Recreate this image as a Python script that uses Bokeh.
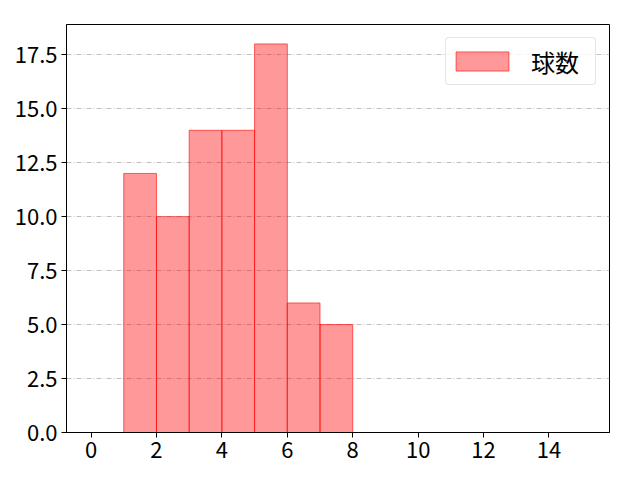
from bokeh.plotting import figure
from bokeh.embed import file_html
from bokeh.resources import INLINE
from bokeh.models import Range1d, FixedTicker, NumeralTickFormatter, ColumnDataSource

# histogram: pitch counts per bin
bin_left = [1, 2, 3, 4, 5, 6, 7]
bin_right = [2, 3, 4, 5, 6, 7, 8]
counts = [12, 10, 14, 14, 18, 6, 5]
x_ticks = [0, 2, 4, 6, 8, 10, 12, 14]
y_ticks = [0, 2.5, 5, 7.5, 10, 12.5, 15, 17.5]
series_name = "球数"

FONT = "Noto Sans CJK JP"

p = figure(
    width=632,
    height=472,
    output_backend="svg",
    toolbar_location=None,
    x_range=Range1d(-0.75, 15.85),
    y_range=Range1d(0, 18.9),
    min_border_left=66,
    min_border_right=23,
    min_border_top=24,
    min_border_bottom=40,
)
p.outline_line_color = "black"
p.outline_line_width = 1
p.xgrid.visible = False
p.ygrid.grid_line_color = "#b0b0b0"
p.ygrid.grid_line_dash = "5 2 1 2"
p.ygrid.grid_line_width = 0.8

src = ColumnDataSource(dict(left=bin_left, right=bin_right, top=counts, bottom=[0] * len(counts)))
p.quad(
    left="left", right="right", top="top", bottom="bottom", source=src,
    fill_color="#ff0000", fill_alpha=0.4,
    line_color="#ff0000", line_alpha=0.6, line_width=1,
    legend_label=series_name,
)

for ax in (p.xaxis, p.yaxis):
    ax.axis_line_color = "black"
    ax.major_tick_line_color = "black"
    ax.major_tick_out = 5
    ax.major_tick_in = 0
    ax.minor_tick_line_color = None
    ax.major_label_text_font = FONT
    ax.major_label_text_font_size = "22px"
    ax.major_label_text_color = "black"
    ax.major_label_standoff = 4

p.xaxis.ticker = FixedTicker(ticks=x_ticks)
p.yaxis.ticker = FixedTicker(ticks=y_ticks)
p.yaxis.formatter = NumeralTickFormatter(format="0.0")

p.legend.location = "top_right"
p.legend.label_text_font = FONT
p.legend.label_text_font_size = "24px"
p.legend.label_text_color = "black"
p.legend.label_height = 40
p.legend.label_width = 61
p.legend.glyph_width = 66
p.legend.glyph_height = 24
p.legend.label_standoff = 16
p.legend.padding = 3
p.legend.margin = 13
p.legend.border_line_color = "#cccccc"
p.legend.border_radius = 4
p.legend.background_fill_alpha = 0.8

open("out.html", "w").write(file_html(p, INLINE))
